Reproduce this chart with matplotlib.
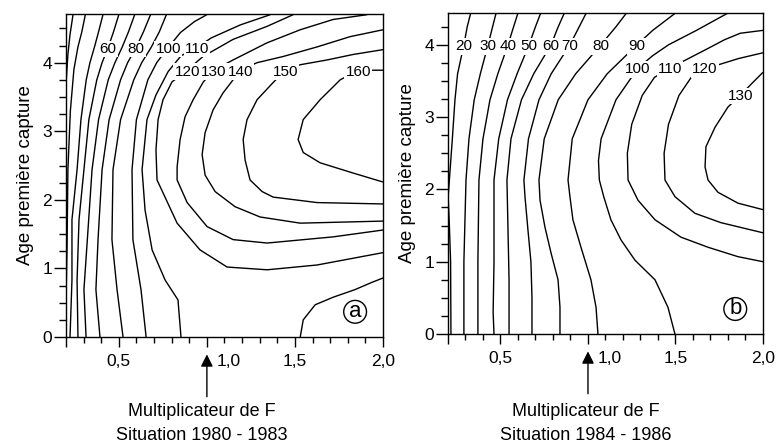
import matplotlib.pyplot as plt
from matplotlib.ticker import MultipleLocator, FixedLocator

plt.rcParams['font.family'] = ['Liberation Sans', 'DejaVu Sans']

# Isoplèthes de production (multiplicateur de F, âge de première capture)
# Situation 1980 - 1983
a30 = [(0.200, 3.68), (0.211, 4.12), (0.223, 4.41), (0.240, 4.70)]
a40 = [(0.200, 0.50), (0.206, 1.30), (0.211, 2.44), (0.225, 3.30), (0.245, 3.90),
       (0.268, 4.23), (0.290, 4.45), (0.310, 4.70)]
a50 = [(0.223, 0.00), (0.234, 0.83), (0.234, 1.71), (0.263, 2.44), (0.285, 3.17),
       (0.315, 3.75), (0.336, 4.00), (0.362, 4.23), (0.385, 4.45), (0.410, 4.70)]
a60 = [(0.268, 0.00), (0.263, 0.83), (0.274, 1.71), (0.302, 2.44), (0.330, 3.17),
       (0.375, 3.75), (0.405, 4.00), (0.439, 4.22), (0.470, 4.45), (0.500, 4.70)]
a70 = [(0.314, 0.00), (0.302, 0.69), (0.325, 1.56), (0.348, 2.44), (0.385, 3.17),
       (0.440, 3.75), (0.478, 4.00), (0.518, 4.22), (0.555, 4.45), (0.590, 4.70)]
a80 = [(0.393, 0.00), (0.370, 0.69), (0.382, 1.42), (0.405, 2.44), (0.445, 3.17),
       (0.510, 3.75), (0.550, 4.00), (0.598, 4.22), (0.640, 4.45), (0.680, 4.70)]
a90 = [(0.524, 0.00), (0.490, 0.69), (0.461, 1.42), (0.467, 2.44), (0.510, 3.17),
       (0.585, 3.75), (0.630, 4.00), (0.683, 4.22), (0.730, 4.45), (0.770, 4.70)]
a100 = [(0.655, 0.00), (0.626, 0.69), (0.580, 1.42), (0.575, 2.44), (0.600, 3.17),
        (0.665, 3.75), (0.715, 4.00), (0.780, 4.22), (0.850, 4.44), (0.930, 4.60),
        (1.000, 4.70)]
a110 = [(0.853, 0.00), (0.836, 0.54), (0.763, 0.83), (0.689, 1.27), (0.649, 1.85),
        (0.632, 2.44), (0.660, 3.17), (0.711, 3.53), (0.780, 3.87), (0.853, 4.10),
        (0.944, 4.22), (1.024, 4.36), (1.189, 4.55), (1.360, 4.70)]
a110_coin = [(1.530, 0.00), (1.547, 0.25), (1.615, 0.47), (1.717, 0.58), (1.840, 0.69),
             (1.940, 0.80), (2.000, 0.86)]
a120 = [(2.000, 1.23), (1.626, 1.05), (1.342, 0.98), (1.115, 1.02), (0.961, 1.27),
        (0.831, 1.66), (0.717, 2.29), (0.711, 2.73), (0.723, 3.17), (0.751, 3.46),
        (0.802, 3.72), (0.888, 3.89), (0.978, 4.09), (1.149, 4.34), (1.342, 4.53),
        (1.490, 4.70)]
a130 = [(2.000, 1.56), (1.717, 1.46), (1.342, 1.37), (1.149, 1.42), (1.001, 1.61),
        (0.888, 1.96), (0.831, 2.29), (0.831, 2.48), (0.848, 2.88), (0.876, 3.21),
        (0.922, 3.46), (0.980, 3.72), (1.040, 3.89), (1.149, 4.04), (1.342, 4.29),
        (1.530, 4.48), (1.717, 4.63), (1.910, 4.70)]
a140 = [(2.000, 4.48), (1.814, 4.38), (1.626, 4.23), (1.433, 4.09), (1.285, 4.00),
        (1.189, 3.89), (1.149, 3.75), (1.092, 3.56), (1.035, 3.31), (0.990, 2.98),
        (0.973, 2.66), (0.990, 2.36), (1.047, 2.12), (1.160, 1.90), (1.302, 1.75),
        (1.530, 1.66), (2.000, 1.69)]
a150 = [(2.000, 4.19), (1.831, 4.12), (1.683, 4.04), (1.530, 3.97), (1.445, 3.89),
        (1.376, 3.71), (1.285, 3.46), (1.228, 3.17), (1.206, 2.88), (1.217, 2.58),
        (1.245, 2.29), (1.314, 2.12), (1.376, 2.04), (1.626, 1.96), (2.000, 1.94)]
a160 = [(2.000, 3.89), (1.860, 3.89), (1.757, 3.75), (1.643, 3.46), (1.547, 3.17),
        (1.518, 2.88), (1.547, 2.69), (1.643, 2.54), (1.831, 2.39), (2.000, 2.26)]

# Situation 1984 - 1986
b20 = [(0.217, 0.00), (0.215, 1.00), (0.208, 1.50), (0.201, 1.90), (0.208, 2.13),
       (0.225, 2.70), (0.240, 3.24), (0.255, 3.60), (0.291, 4.00), (0.310, 4.25),
       (0.330, 4.44)]
b30 = [(0.291, 0.00), (0.291, 1.00), (0.303, 2.13), (0.320, 2.70), (0.350, 3.24),
       (0.385, 3.60), (0.429, 4.00), (0.455, 4.25), (0.475, 4.44)]
b40 = [(0.371, 0.00), (0.371, 1.00), (0.377, 2.13), (0.400, 2.70), (0.440, 3.24),
       (0.485, 3.60), (0.543, 4.00), (0.575, 4.25), (0.600, 4.44)]
b50 = [(0.463, 0.00), (0.458, 0.30), (0.463, 1.00), (0.463, 2.13), (0.490, 2.70),
       (0.540, 3.24), (0.595, 3.60), (0.663, 4.00), (0.700, 4.25), (0.730, 4.44)]
b60 = [(0.549, 0.00), (0.549, 0.75), (0.543, 1.44), (0.537, 2.13), (0.560, 2.70),
       (0.620, 3.24), (0.690, 3.60), (0.789, 4.00), (0.830, 4.25), (0.865, 4.44)]
b70 = [(0.680, 0.00), (0.680, 0.50), (0.674, 1.00), (0.657, 1.44), (0.640, 1.90),
       (0.634, 2.13), (0.660, 2.70), (0.720, 3.24), (0.790, 3.60), (0.897, 4.00),
       (0.950, 4.25), (0.990, 4.44)]
b80 = [(0.840, 0.00), (0.840, 0.37), (0.829, 0.75), (0.789, 1.12), (0.754, 1.48),
       (0.726, 1.85), (0.720, 2.13), (0.750, 2.70), (0.830, 3.24), (0.930, 3.60),
       (1.074, 4.00), (1.160, 4.25), (1.220, 4.44)]
b90 = [(1.057, 0.00), (1.046, 0.37), (1.017, 0.75), (0.960, 1.20), (0.914, 1.58),
       (0.897, 1.90), (0.886, 2.13), (0.910, 2.70), (1.000, 3.24), (1.110, 3.60),
       (1.280, 4.00), (1.370, 4.20), (1.500, 4.44)]
b100 = [(1.497, 0.00), (1.457, 0.37), (1.383, 0.75), (1.269, 1.02), (1.189, 1.30),
        (1.131, 1.58), (1.090, 1.90), (1.065, 2.13), (1.060, 2.40), (1.075, 2.70),
        (1.160, 3.24), (1.286, 3.68), (1.370, 3.85), (1.460, 4.00), (1.620, 4.20),
        (1.800, 4.44)]
b110 = [(2.000, 1.00), (1.857, 1.07), (1.686, 1.20), (1.531, 1.34), (1.383, 1.58),
        (1.286, 1.85), (1.229, 2.13), (1.225, 2.50), (1.250, 2.90), (1.310, 3.30),
        (1.380, 3.55), (1.469, 3.68), (1.550, 3.78), (1.670, 3.93), (1.780, 4.07),
        (1.870, 4.16), (2.000, 4.20)]
b120 = [(2.000, 1.40), (1.760, 1.54), (1.611, 1.67), (1.497, 1.90), (1.440, 2.13),
        (1.435, 2.50), (1.460, 2.90), (1.520, 3.30), (1.590, 3.55), (1.669, 3.68),
        (1.740, 3.72), (1.860, 3.81), (2.000, 3.89)]
b130 = [(2.000, 1.72), (1.857, 1.81), (1.743, 1.96), (1.686, 2.13), (1.669, 2.31),
        (1.674, 2.59), (1.726, 2.86), (1.800, 3.14), (1.874, 3.31), (1.930, 3.45),
        (2.000, 3.62)]

lignes_a = [(30, a30), (40, a40), (50, a50), (60, a60), (70, a70), (80, a80),
            (90, a90), (100, a100), (110, a110), (110, a110_coin), (120, a120),
            (130, a130), (140, a140), (150, a150), (160, a160)]
lignes_b = [(20, b20), (30, b30), (40, b40), (50, b50), (60, b60), (70, b70),
            (80, b80), (90, b90), (100, b100), (110, b110), (120, b120), (130, b130)]

# emplacement des valeurs écrites sur les courbes
etiq_a = {60: (0.439, 4.22), 80: (0.598, 4.22), 100: (0.780, 4.22), 110: (0.944, 4.22),
          120: (0.888, 3.89), 130: (1.040, 3.89), 140: (1.189, 3.89),
          150: (1.445, 3.89), 160: (1.860, 3.89)}
etiq_b = {20: (0.291, 4.00), 30: (0.429, 4.00), 40: (0.543, 4.00), 50: (0.663, 4.00),
          60: (0.789, 4.00), 70: (0.897, 4.00), 80: (1.074, 4.00), 90: (1.280, 4.00),
          100: (1.286, 3.68), 110: (1.469, 3.68), 120: (1.669, 3.68),
          130: (1.874, 3.31)}

fig = plt.figure(figsize=(7.78, 4.44), dpi=100)
ax_a = fig.add_axes([0.0848, 0.241, 0.4075, 0.7275])
ax_b = fig.add_axes([0.5758, 0.2477, 0.4049, 0.723])


def panneau(ax, lignes, etiquettes, ymax, lettre, periode, xtexte):
    for niveau, pts in lignes:
        ax.plot([p[0] for p in pts], [p[1] for p in pts], color='black', lw=1.0,
                solid_joinstyle='round', solid_capstyle='butt')
    for niveau, (x, y) in etiquettes.items():
        ax.text(x, y, str(niveau), ha='center', va='center_baseline', fontsize=11,
                bbox=dict(boxstyle='square,pad=0.08', fc='white', ec='none'), zorder=3)

    ax.set_xlim(0.2, 2.0)
    ax.set_ylim(0, ymax)
    ax.xaxis.set_major_locator(FixedLocator([0.2, 0.5, 1.0, 1.5, 2.0]))
    ax.set_xticklabels(['', '0,5', '', '1,5', '2,0'])
    ax.xaxis.set_minor_locator(MultipleLocator(0.1))
    ax.yaxis.set_major_locator(MultipleLocator(1))
    ax.yaxis.set_minor_locator(MultipleLocator(0.25))
    ax.tick_params(axis='x', which='major', length=7.2, width=1, pad=5, labelsize=12.5)
    ax.tick_params(axis='x', which='minor', length=4.3, width=1)
    ax.tick_params(axis='y', which='major', length=8.6, width=1, pad=1.5, labelsize=12.5)
    ax.tick_params(axis='y', which='minor', length=5, width=1)
    for s in ax.spines.values():
        s.set_linewidth(1.0)
    ax.set_ylabel('Age première capture', fontsize=13.5, labelpad=6)

    # 1,0 décalé pour laisser la place à la flèche
    ax.annotate('1,0', xy=(1.0, 0), xycoords=('data', 'axes fraction'),
                xytext=(7, -12.2), textcoords='offset points',
                ha='left', va='top', fontsize=12.5)
    ax.annotate('', xy=(1.0, 0), xycoords=('data', 'axes fraction'),
                xytext=(0, -43), textcoords='offset points',
                arrowprops=dict(arrowstyle='-|>,head_length=0.52,head_width=0.26',
                                mutation_scale=14, lw=1, color='black',
                                shrinkA=0, shrinkB=12.5))
    ax.annotate('Multiplicateur de F', xy=(xtexte, 0.062),
                xycoords=('data', 'figure fraction'),
                ha='center', va='baseline', fontsize=13, annotation_clip=False)
    ax.annotate('Situation ' + periode, xy=(xtexte, 0.009),
                xycoords=('data', 'figure fraction'),
                ha='center', va='baseline', fontsize=13, annotation_clip=False)

    ax.text(0.912, 0.078, lettre, transform=ax.transAxes, ha='center', va='center',
            fontsize=16, bbox=dict(boxstyle='circle,pad=0.04', fc='white',
                                   ec='black', lw=1))


panneau(ax_a, lignes_a, etiq_a, 4.71, 'a', '1980 - 1983', 0.97)
panneau(ax_b, lignes_b, etiq_b, 4.44, 'b', '1984 - 1986', 0.99)

fig.savefig('out.png', dpi=100)
